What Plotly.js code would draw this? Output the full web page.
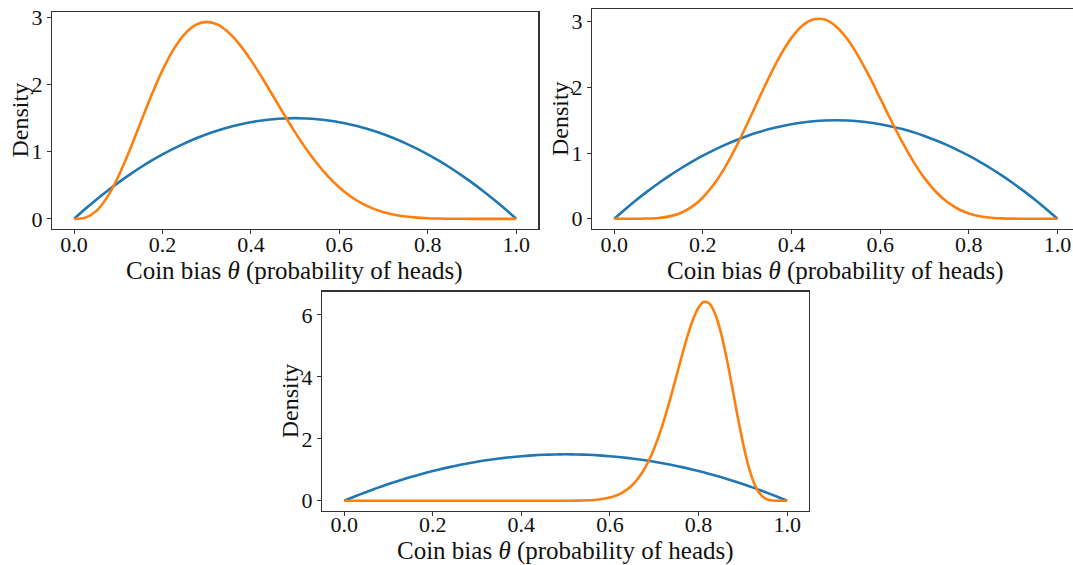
<!DOCTYPE html>
<html>
<head>
<meta charset="utf-8">
<script src="https://cdn.plot.ly/plotly-3.0.1.min.js"></script>
<style>html,body{margin:0;padding:0;background:#fff;}#chart{width:1073px;height:565px;}</style>
</head>
<body>
<div id="chart"></div>
<script>
// Coin bias grid (shared by prior and first two posteriors)
const theta = [0,0.025,0.05,0.075,0.1,0.125,0.15,0.175,0.2,0.225,0.25,0.275,0.3,0.325,0.35,0.375,0.4,0.425,0.45,0.475,0.5,
  0.525,0.55,0.575,0.6,0.625,0.65,0.675,0.7,0.725,0.75,0.775,0.8,0.825,0.85,0.875,0.9,0.925,0.95,0.975,1.0];
// Prior density (blue), same in all panels
const prior = [0,0.146,0.285,0.416,0.54,0.656,0.765,0.866,0.96,1.046,1.125,1.196,1.26,1.316,1.365,1.406,1.44,1.466,1.485,1.496,1.5,
  1.496,1.485,1.466,1.44,1.406,1.365,1.316,1.26,1.196,1.125,1.046,0.96,0.866,0.765,0.656,0.54,0.416,0.285,0.146,0];
// Posterior, panel 1 (top-left, orange)
const postA = [0,0.017,0.115,0.323,0.631,1.012,1.428,1.840,2.215,2.525,2.753,2.891,2.935,2.893,2.774,2.593,2.365,2.106,1.831,1.555,1.289,
  1.042,0.821,0.628,0.467,0.336,0.233,0.156,0.099,0.060,0.034,0.018,0.009,0.004,0.001,0.0004,0.0001,0,0,0,0];
// Posterior, panel 2 (top-right, orange)
const postB = [0,0,0.0003,0.0025,0.0115,0.036,0.088,0.180,0.323,0.524,0.783,1.094,1.442,1.808,2.165,2.489,2.755,2.942,3.037,3.034,2.933,
  2.745,2.485,2.175,1.836,1.493,1.166,0.870,0.618,0.415,0.261,0.152,0.081,0.038,0.016,0.005,0.0013,0.0002,0,0,0];
// Posterior, panel 3 (bottom, orange) on its own grid
const thetaC = [0,0.1,0.2,0.3,0.4,0.45,0.5,0.525,0.55,0.575,0.6,0.6125,0.625,0.6375,0.65,0.6625,0.675,0.6875,0.7,0.7125,0.725,0.7375,
  0.75,0.7625,0.775,0.7875,0.8,0.8125,0.825,0.8375,0.85,0.8625,0.875,0.8875,0.9,0.9125,0.925,0.9375,0.95,0.9625,0.975,1.0];
const postC = [0,0,0,0,0,0.0001,0.0018,0.0057,0.0164,0.0437,0.107,0.162,0.241,0.352,0.502,0.704,0.963,1.293,1.698,2.182,2.741,3.362,
  4.023,4.690,5.318,5.853,6.238,6.422,6.359,6.034,5.454,4.664,3.739,2.776,1.878,1.131,0.586,0.248,0.078,0.016,0.0014,0];
const xTickVals = [0,0.2,0.4,0.6,0.8,1.0];
const xTickText = ['0.0','0.2','0.4','0.6','0.8','1.0'];
const yTicksTop = [0,1,2,3];
const yTicksBottom = [0,2,4,6];
const xTitle = 'Coin bias <i>θ</i> (probability of heads)';
const yTitle = 'Density';

const BLUE = '#1f77b4', ORANGE = '#ff7f0e';
const FONT = 'Liberation Serif, DejaVu Serif, serif';
const TXT = '#111';

function line(x, y, color, xa, ya) {
  return {x: x, y: y, type: 'scatter', mode: 'lines', xaxis: xa, yaxis: ya,
    line: {color: color, width: 2.6, shape: 'spline', smoothing: 0.8}, hoverinfo: 'skip'};
}
const data = [
  line(theta, prior, BLUE, 'x', 'y'), line(theta, postA, ORANGE, 'x', 'y'),
  line(theta, prior, BLUE, 'x2', 'y2'), line(theta, postB, ORANGE, 'x2', 'y2'),
  line(theta, prior, BLUE, 'x3', 'y3'), line(thetaC, postC, ORANGE, 'x3', 'y3')
];

function xax(domain, range, anchor, standoff) {
  return {domain: domain, range: range, anchor: anchor, tickvals: xTickVals, ticktext: xTickText,
    ticks: 'outside', ticklen: 4, tickwidth: 1, tickcolor: '#333', showgrid: false, zeroline: false,
    showline: true, linecolor: '#333', linewidth: 1.2, mirror: true, ticklabelstandoff: standoff,
    tickfont: {family: FONT, size: 22, color: TXT}, automargin: false};
}
function yax(domain, range, anchor, ticks, mirror) {
  return {domain: domain, range: range, anchor: anchor, tickvals: ticks,
    ticks: 'outside', ticklen: 4, tickwidth: 1, tickcolor: '#333', showgrid: false, zeroline: false,
    showline: true, linecolor: '#333', linewidth: 1.2, mirror: mirror,
    tickfont: {family: FONT, size: 22, color: TXT}, automargin: false};
}
function xTitleAnn(xc, yc) {
  return {text: xTitle, xref: 'paper', yref: 'paper', x: xc, y: yc, xanchor: 'center', yanchor: 'middle',
    showarrow: false, font: {family: FONT, size: 25, color: TXT}};
}
function yTitleAnn(xc, yc) {
  return {text: yTitle, xref: 'paper', yref: 'paper', x: xc, y: yc, xanchor: 'center', yanchor: 'middle',
    textangle: -90, showarrow: false, font: {family: FONT, size: 24, color: TXT}};
}
const layout = {
  width: 1073, height: 565, margin: {l: 0, r: 0, t: 0, b: 0},
  paper_bgcolor: '#fff', plot_bgcolor: '#fff', showlegend: false,
  xaxis: xax([0.04846, 0.50168], [-0.05, 1.05], 'y', -8),
  yaxis: yax([0.59522, 0.97876], [-0.147, 3.082], 'x', yTicksTop, true),
  xaxis2: xax([0.55172, 1.0], [-0.05, 1.035], 'y2', -8),
  yaxis2: yax([0.59522, 0.98354], [-0.152, 3.19], 'x2', yTicksTop, false),
  xaxis3: xax([0.30009, 0.75424], [-0.05, 1.05], 'y3', -10),
  yaxis3: yax([0.09611, 0.48372], [-0.32, 6.75], 'x3', yTicksBottom, true),
  annotations: [
    xTitleAnn(0.2749, 0.5212), xTitleAnn(0.7788, 0.5212), xTitleAnn(0.5272, 0.0255),
    yTitleAnn(0.0187, 0.7869), yTitleAnn(0.5220, 0.7894), yTitleAnn(0.2704, 0.2899)
  ]
};
Plotly.newPlot('chart', data, layout, {displayModeBar: false, staticPlot: true});
</script>
</body>
</html>
